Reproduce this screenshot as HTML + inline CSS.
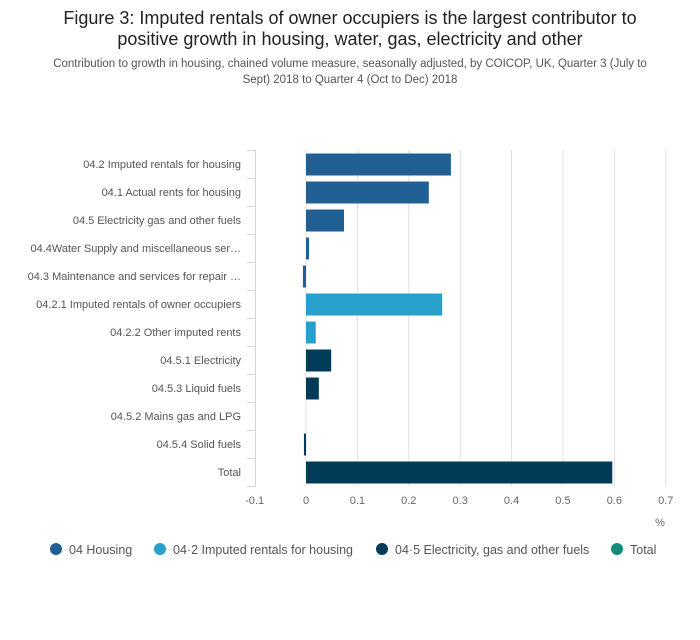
<!DOCTYPE html>
<html><head><meta charset="utf-8"><style>
body{margin:0;background:#fff;font-family:"Liberation Sans",sans-serif;}
</style></head><body>
<svg width="700" height="635" xmlns="http://www.w3.org/2000/svg" font-family="Liberation Sans, sans-serif">
<text x="350" y="24" text-anchor="middle" font-size="18" fill="#222">Figure 3: Imputed rentals of owner occupiers is the largest contributor to</text>
<text x="350" y="45" text-anchor="middle" font-size="18" fill="#222">positive growth in housing, water, gas, electricity and other</text>
<text x="350" y="67" text-anchor="middle" font-size="11.5" fill="#555">Contribution to growth in housing, chained volume measure, seasonally adjusted, by COICOP, UK, Quarter 3 (July to</text>
<text x="350" y="83" text-anchor="middle" font-size="11.5" fill="#555">Sept) 2018 to Quarter 4 (Oct to Dec) 2018</text>
<g id="grid"></g><g id="bars"></g><g id="axes"></g>
<g id="legend" font-size="12.5" fill="#555">
<circle cx="56" cy="549" r="6" fill="#206095"/>
<text x="69" y="554">04 Housing</text>
<circle cx="160" cy="549" r="6" fill="#27a0cc"/>
<text x="173" y="554">04·2 Imputed rentals for housing</text>
<circle cx="382" cy="549" r="6" fill="#003c57"/>
<text x="395" y="554">04·5 Electricity, gas and other fuels</text>
<circle cx="617" cy="549" r="6" fill="#118c7b"/>
<text x="630" y="554">Total</text>
</g>
</svg>
<script>
const categories=["04.2 Imputed rentals for housing","04.1 Actual rents for housing","04.5 Electricity gas and other fuels","04.4Water Supply and miscellaneous ser…","04.3 Maintenance and services for repair …","04.2.1 Imputed rentals of owner occupiers","04.2.2 Other imputed rents","04.5.1 Electricity","04.5.3 Liquid fuels","04.5.2 Mains gas and LPG","04.5.4 Solid fuels","Total"];
const values=[0.282,0.239,0.074,0.006,-0.006,0.265,0.019,0.049,0.025,0,-0.004,0.596];
const seriesIdx=[0,0,0,0,0,1,1,2,2,2,2,3];
const tickLabels=["-0.1","0","0.1","0.2","0.3","0.4","0.5","0.6","0.7"];
const tickValues=[-0.1,0,0.1,0.2,0.3,0.4,0.5,0.6,0.7];
const colors=["#206095","#27a0cc","#003c57","#003c57"];
const NS="http://www.w3.org/2000/svg";
const x0=306,scale=513.9,plotTop=150,band=28,bh=22;
const X=v=>x0+v*scale, Y=i=>plotTop+i*band;
function mk(t,a,p){const e=document.createElementNS(NS,t);for(const k in a)e.setAttribute(k,a[k]);p.appendChild(e);return e;}
const grid=document.getElementById('grid'),bars=document.getElementById('bars'),axes=document.getElementById('axes');
tickValues.forEach((v,i)=>{
 if(i>0){const l=mk('line',{x1:X(v),x2:X(v),y1:plotTop,y2:plotTop+band*12,stroke:'#e0e0e0','stroke-width':1},grid);
 
 }
 const t=mk('text',{x:X(v),y:504,'text-anchor':'middle','font-size':11,fill:'#666'},axes);t.textContent=tickLabels[i];
 
 
});
const u=mk('text',{x:660,y:526,'text-anchor':'middle','font-size':11,fill:'#666'},axes);u.textContent='%';


const al=mk('line',{x1:255.5,x2:255.5,y1:plotTop,y2:plotTop+band*12,stroke:'#ccd6eb'},axes);


for(let i=0;i<=12;i++){const tk=mk('line',{x1:247,x2:255.5,y1:Y(i)+0.5,y2:Y(i)+0.5,stroke:'#ccd6eb'},axes);
 
 }
categories.forEach((c,i)=>{
 const t=mk('text',{x:241,y:Y(i)+band/2+4,'text-anchor':'end','font-size':11,fill:'#555'},axes);t.textContent=c;
 
 
 const v=values[i];const xa=Math.min(X(0),X(v)),w=Math.abs(X(v)-X(0));
 const r=mk('rect',{x:xa,y:Y(i)+(band-bh)/2+0.5,width:w,height:bh,fill:colors[seriesIdx[i]]},bars);
 
 
});
</script>
</body></html>
